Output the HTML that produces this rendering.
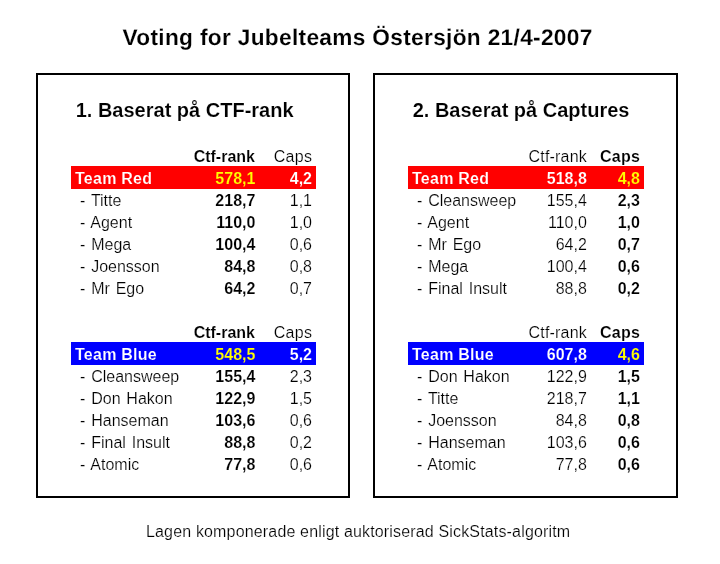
<!DOCTYPE html>
<html lang="sv"><head><meta charset="utf-8"><title>Voting for Jubelteams Östersjön 21/4-2007</title>
<style>
html,body{margin:0;padding:0;background:#fff;}
body{width:720px;height:564px;position:relative;overflow:hidden;font-family:"Liberation Sans",Arial,sans-serif;color:#000;font-size:16px;line-height:22px;}
h1{position:absolute;margin:0;left:122.5px;top:24px;white-space:nowrap;font-size:22.67px;font-weight:bold;letter-spacing:0.33px;text-rendering:geometricPrecision;-webkit-text-stroke:0.15px #fff;line-height:26px;height:26px;}
section{position:absolute;top:73px;height:425px;box-sizing:border-box;border:2px solid #000;padding:23px 0 0 33px;}
#rank{left:36px;width:314px;}
#caps{left:373px;width:305px;}
h2{margin:0 0 24px 4.7px;white-space:nowrap;font-size:20px;font-weight:bold;line-height:24px;height:24px;-webkit-text-stroke:0.15px #fff;}
table{border-collapse:separate;border-spacing:0;table-layout:fixed;margin:0 0 22px 0;}
#rank table{width:245px;}
#caps table{width:236px;}
td,th{padding:0;height:22px;line-height:22px;white-space:nowrap;text-align:right;font-weight:normal;vertical-align:top;overflow:visible;}
td:first-child,th:first-child{text-align:left;}
/* thin 1px-looking strokes like the original GDI rendering */
td,th{-webkit-text-stroke:0.2px #fff;}
tbody td:first-child{padding-left:9px;word-spacing:1.4px;}
#rank td:nth-child(2),#rank th:nth-child(2),#caps td:nth-child(3),#caps th:nth-child(3),tr.team td{font-weight:bold;-webkit-text-stroke:0.15px #fff;}
#rank td:nth-child(2){padding-right:0.6px;}
#rank td:nth-child(3){padding-right:4px;}
#rank th:nth-child(2){padding-right:1px;}
#rank th:nth-child(3){padding-right:3.7px;letter-spacing:0.3px;}
#caps td:nth-child(2){padding-right:1.2px;}
#caps td:nth-child(3){padding-right:4.1px;}
#caps th:nth-child(2){padding-right:1px;letter-spacing:0.2px;}
#caps th:nth-child(3){padding-right:3.8px;letter-spacing:0.3px;}
tr.team td{color:#fff;}
tr.team td:first-child{padding-left:4px;word-spacing:0;letter-spacing:0.25px;}
#rank tr.red td,#caps tr.red td{background:linear-gradient(#f00,#f00) 0 0/100% 21px no-repeat;box-shadow:0 -2px 0 #f00;-webkit-text-stroke:0.15px #f00;}
#rank tr.blue td,#caps tr.blue td{background:linear-gradient(#00f,#00f) 0 0/100% 21px no-repeat;box-shadow:0 -2px 0 #00f;-webkit-text-stroke:0.15px #00f;}
#rank tr.team td:nth-child(2),#caps tr.team td:nth-child(3){color:#ff0;}
footer{position:absolute;left:146px;top:521px;white-space:nowrap;height:22px;letter-spacing:0.16px;-webkit-text-stroke:0.2px #fff;}
</style></head><body>
<h1>Voting for Jubelteams Östersjön 21/4-2007</h1>
<section id="rank">
<h2>1. Baserat på CTF-rank</h2>
<table><colgroup><col style="width:105px"><col style="width:80px"><col style="width:60px"></colgroup>
<thead><tr><th></th><th>Ctf-rank</th><th>Caps</th></tr></thead>
<tbody>
<tr class="team red"><td>Team Red</td><td>578,1</td><td>4,2</td></tr>
<tr><td>- Titte</td><td>218,7</td><td>1,1</td></tr>
<tr><td>- Agent</td><td>110,0</td><td>1,0</td></tr>
<tr><td>- Mega</td><td>100,4</td><td>0,6</td></tr>
<tr><td>- Joensson</td><td>84,8</td><td>0,8</td></tr>
<tr><td>- Mr Ego</td><td>64,2</td><td>0,7</td></tr>
</tbody></table>
<table><colgroup><col style="width:105px"><col style="width:80px"><col style="width:60px"></colgroup>
<thead><tr><th></th><th>Ctf-rank</th><th>Caps</th></tr></thead>
<tbody>
<tr class="team blue"><td>Team Blue</td><td>548,5</td><td>5,2</td></tr>
<tr><td>- Cleansweep</td><td>155,4</td><td>2,3</td></tr>
<tr><td>- Don Hakon</td><td>122,9</td><td>1,5</td></tr>
<tr><td>- Hanseman</td><td>103,6</td><td>0,6</td></tr>
<tr><td>- Final Insult</td><td>88,8</td><td>0,2</td></tr>
<tr><td>- Atomic</td><td>77,8</td><td>0,6</td></tr>
</tbody></table>
</section>
<section id="caps">
<h2>2. Baserat på Captures</h2>
<table><colgroup><col style="width:100px"><col style="width:80px"><col style="width:56px"></colgroup>
<thead><tr><th></th><th>Ctf-rank</th><th>Caps</th></tr></thead>
<tbody>
<tr class="team red"><td>Team Red</td><td>518,8</td><td>4,8</td></tr>
<tr><td>- Cleansweep</td><td>155,4</td><td>2,3</td></tr>
<tr><td>- Agent</td><td>110,0</td><td>1,0</td></tr>
<tr><td>- Mr Ego</td><td>64,2</td><td>0,7</td></tr>
<tr><td>- Mega</td><td>100,4</td><td>0,6</td></tr>
<tr><td>- Final Insult</td><td>88,8</td><td>0,2</td></tr>
</tbody></table>
<table><colgroup><col style="width:100px"><col style="width:80px"><col style="width:56px"></colgroup>
<thead><tr><th></th><th>Ctf-rank</th><th>Caps</th></tr></thead>
<tbody>
<tr class="team blue"><td>Team Blue</td><td>607,8</td><td>4,6</td></tr>
<tr><td>- Don Hakon</td><td>122,9</td><td>1,5</td></tr>
<tr><td>- Titte</td><td>218,7</td><td>1,1</td></tr>
<tr><td>- Joensson</td><td>84,8</td><td>0,8</td></tr>
<tr><td>- Hanseman</td><td>103,6</td><td>0,6</td></tr>
<tr><td>- Atomic</td><td>77,8</td><td>0,6</td></tr>
</tbody></table>
</section>
<footer>Lagen komponerade enligt auktoriserad SickStats-algoritm</footer>
</body></html>
